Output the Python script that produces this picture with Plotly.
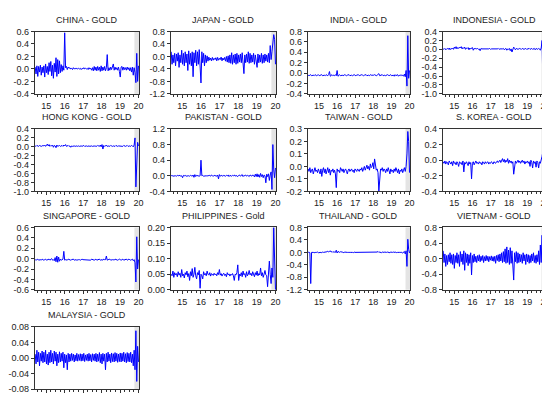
import numpy as np
import plotly.graph_objects as go

# ---------------- data (~1 point / 17 days) -------------
titles = ["CHINA - GOLD", "JAPAN - GOLD", "INDIA - GOLD", "INDONESIA - GOLD",
          "HONG KONG - GOLD", "PAKISTAN - GOLD", "TAIWAN - GOLD", "S. KOREA - GOLD",
          "SINGAPORE - GOLD", "PHILIPPINES - Gold", "THAILAND - GOLD", "VIETNAM - GOLD",
          "MALAYSIA - GOLD"]

year_ticks = [15, 16, 17, 18, 19, 20]
year_labels = ["15", "16", "17", "18", "19", "20"]

china = """0.03 -0.08 0.05 -0.12 0.04 -0.05 0.06 -0.10 0.03 -0.06
0.05 -0.13 0.08 -0.06 0.04 -0.09 0.10 -0.04 0.12 -0.11
0.06 -0.15 0.09 -0.05 0.18 -0.12 0.15 -0.08 0.13 -0.06
0.07 -0.04 0.05 -0.02 0.58 0.02 0.04 -0.01 0.03 0.01
0.02 0.00 0.01 -0.01 0.02 0.00 0.01 0.00 0.01 0.00
0.01 0.00 0.01 -0.01 0.01 0.00 0.02 0.00 0.01 0.00
0.01 -0.01 0.02 0.00 0.01 -0.02 0.02 -0.03 0.04 -0.02
0.03 -0.03 0.04 -0.02 0.03 -0.04 0.05 -0.03 0.03 -0.02
0.04 -0.03 0.02 0.23 -0.03 0.02 -0.02 0.03 -0.01 0.04
0.08 -0.02 0.03 -0.01 0.02 -0.02 0.03 -0.04 -0.13 0.03
0.04 -0.02 0.03 -0.01 0.02 -0.02 0.03 -0.01 0.02 -0.03
0.02 -0.05 0.03 -0.10 0.02 -0.06 -0.22 0.25 -0.20 0.05"""

japan = """0.15 -0.25 0.05 -0.20 0.10 -0.30 0.08 -0.15 0.12 -0.35
0.05 -0.20 0.20 -0.25 0.10 -0.30 0.15 -0.20 0.08 -0.45
0.18 -0.25 0.10 -0.30 0.15 -0.65 0.12 -0.20 0.20 -0.30
0.15 -0.25 0.22 -0.30 -0.85 0.15 -0.20 0.10 -0.30 0.05
-0.20 0.02 -0.15 -0.02 -0.12 -0.05 -0.14 -0.03 -0.12 -0.06
-0.10 -0.04 -0.14 -0.03 -0.12 -0.06 -0.10 -0.02 -0.14 -0.05
-0.11 -0.03 -0.15 0.00 -0.18 0.02 -0.20 0.05 -0.22 0.12
-0.25 0.05 -0.20 0.08 -0.25 0.10 -0.22 0.05 -0.18 0.08
-0.20 0.12 -0.25 -0.55 0.05 -0.20 0.08 -0.18 0.15 -0.22
0.10 -0.20 0.05 -0.18 0.10 -0.25 0.05 -0.20 -0.35 0.08
-0.20 0.05 -0.18 0.10 -0.22 0.05 -0.20 0.08 -0.15 0.05
-0.18 0.10 -0.20 0.35 -0.10 0.15 0.45 0.70 0.55 -0.25"""

india = """-0.04 -0.05 -0.04 -0.03 -0.05 -0.04 -0.04 -0.05 -0.03 -0.04
-0.05 -0.04 -0.03 -0.05 -0.04 -0.04 -0.03 -0.05 -0.04 -0.04
-0.05 -0.03 -0.04 -0.05 -0.03 0.03 -0.06 -0.04 -0.03 -0.05
-0.04 -0.05 -0.03 -0.05 0.05 -0.06 -0.04 -0.03 -0.05 -0.04
-0.04 -0.05 -0.04 -0.03 -0.04 -0.05 -0.04 -0.04 -0.03 -0.05
-0.04 -0.04 -0.05 -0.04 -0.03 -0.04 -0.05 -0.04 -0.04 -0.03
-0.05 -0.04 -0.04 -0.03 -0.04 -0.05 -0.04 -0.04 -0.03 -0.05
-0.04 -0.04 -0.05 -0.03 -0.04 -0.04 -0.05 -0.04 -0.03 -0.04
-0.05 -0.04 -0.03 -0.01 -0.05 -0.04 -0.04 -0.03 -0.05 -0.04
-0.04 -0.05 -0.04 -0.03 -0.04 -0.05 -0.04 -0.03 -0.05 -0.04
-0.04 -0.06 -0.03 -0.05 -0.04 -0.03 -0.06 -0.04 -0.05 -0.03
-0.05 -0.04 -0.06 -0.02 -0.07 0.05 -0.25 0.72 -0.10 0.05"""

indonesia = """0.01 0.00 0.02 -0.01 0.01 0.02 0.00 0.03 -0.01 0.02
0.01 0.03 0.00 0.05 0.02 0.06 0.01 0.04 0.02 0.05
0.03 0.06 0.01 0.04 0.02 0.05 0.00 0.03 0.02 0.04
-0.01 0.03 0.01 0.02 0.04 -0.02 0.02 0.01 0.02 0.01
0.02 0.00 0.01 -0.03 0.02 0.01 0.01 0.00 0.01 0.01
0.01 0.00 0.01 0.01 0.02 0.00 0.01 0.01 0.01 0.00
0.01 0.01 0.00 0.01 0.02 0.00 0.01 0.01 0.00 0.01
0.02 -0.01 0.01 0.02 -0.02 0.01 0.00 0.02 -0.03 0.01
-0.06 0.03 0.05 0.02 -0.01 0.02 0.01 0.00 0.01 0.02
0.01 0.00 0.02 0.01 0.00 0.01 0.02 0.00 0.01 0.01
0.02 0.00 0.01 0.02 0.00 0.01 0.02 -0.01 0.02 0.01
0.00 0.02 0.01 -0.02 0.03 0.20 -0.85 0.15 -0.30 0.05"""

hong_kong = """0.02 0.01 0.03 0.02 0.01 0.03 0.02 0.01 0.02 0.03
0.02 0.04 0.01 0.03 0.06 0.02 0.05 0.01 0.03 0.02
0.04 -0.01 0.03 0.02 -0.02 0.04 0.01 0.02 0.03 0.01
0.02 0.03 0.01 0.04 0.02 0.05 0.01 0.02 0.03 0.01
0.02 -0.01 0.02 0.01 0.02 0.02 0.01 0.02 0.02 0.01
0.02 0.01 0.02 0.02 0.01 0.02 0.03 0.01 0.02 0.02
0.01 0.02 0.02 0.01 0.02 0.02 0.01 0.02 0.02 0.01
0.02 0.01 0.03 0.02 0.01 0.04 0.00 0.05 -0.05 0.03
0.01 0.02 0.04 0.01 0.02 0.02 0.01 0.03 0.02 0.01
0.02 0.02 0.01 0.03 0.02 0.01 0.02 0.02 0.01 0.02
0.02 0.01 0.03 0.02 0.01 0.02 0.03 0.01 0.02 0.02
0.01 0.03 0.02 0.00 0.04 0.20 -0.90 -0.30 0.10 0.02"""

pakistan = """0.00 0.01 -0.01 0.00 0.01 0.00 -0.01 0.01 0.00 0.00
0.01 -0.01 0.00 -0.05 0.01 0.00 0.01 -0.01 0.00 0.01
0.00 -0.01 0.01 0.00 -0.01 0.02 -0.04 0.03 -0.02 0.01
0.00 0.01 -0.01 0.00 0.40 0.00 0.01 -0.01 0.00 0.01
0.00 -0.01 0.01 0.00 0.01 -0.01 0.02 0.00 -0.01 0.01
0.00 0.01 -0.01 0.02 -0.08 0.03 -0.01 0.01 0.00 -0.01
0.01 0.00 -0.01 0.01 0.00 0.02 -0.02 0.01 0.00 -0.01
0.01 0.00 0.02 -0.01 0.01 0.00 -0.02 0.01 0.02 -0.01
0.01 0.03 -0.02 0.01 0.00 0.02 -0.01 0.01 0.00 -0.02
0.02 0.00 -0.01 0.02 0.01 -0.03 0.04 -0.02 0.05 -0.03
0.03 -0.04 0.06 -0.02 0.03 -0.05 0.02 0.00 -0.18 0.04
-0.02 0.05 -0.12 0.02 0.10 -0.35 0.80 0.15 -0.05 0.20"""

taiwan = """-0.02 -0.04 -0.01 -0.05 -0.03 -0.02 -0.06 -0.03 -0.01 -0.04
-0.03 -0.05 -0.02 -0.04 -0.06 -0.02 -0.08 -0.03 -0.01 -0.05
-0.02 -0.06 -0.03 -0.01 -0.05 -0.02 -0.07 -0.03 -0.04 -0.02
-0.05 -0.03 -0.06 -0.17 -0.02 -0.04 -0.03 -0.05 -0.01 -0.03
-0.04 -0.02 -0.05 -0.03 -0.02 -0.04 -0.06 -0.03 -0.02 -0.04
-0.03 -0.02 -0.04 -0.03 -0.05 -0.02 -0.03 -0.04 -0.02 -0.03
-0.04 -0.02 -0.03 -0.01 -0.04 -0.02 0.00 -0.03 -0.01 0.01
-0.02 0.00 -0.03 0.02 -0.01 0.00 0.03 -0.02 0.06 -0.01
-0.03 -0.02 -0.05 -0.20 -0.04 -0.02 -0.03 -0.01 -0.04 -0.02
-0.03 -0.05 -0.02 -0.04 -0.01 -0.03 -0.06 -0.02 -0.04 -0.03
-0.05 -0.02 -0.04 -0.01 -0.03 -0.05 -0.02 -0.06 -0.03 -0.04
-0.02 -0.05 -0.03 -0.01 -0.04 0.00 0.10 0.28 0.20 -0.05"""

s_korea = """-0.02 -0.04 -0.01 -0.05 -0.02 -0.03 -0.06 -0.01 -0.03 -0.05
-0.02 -0.07 -0.01 -0.04 -0.03 -0.06 -0.02 -0.04 -0.08 -0.02
-0.04 -0.03 -0.06 -0.01 -0.15 -0.03 -0.05 -0.02 -0.04 -0.07
-0.02 -0.05 -0.03 -0.24 -0.04 -0.02 -0.06 -0.03 -0.01 -0.04
-0.03 -0.05 -0.02 -0.04 -0.03 -0.06 -0.02 -0.03 -0.05 -0.02
-0.04 -0.03 -0.02 -0.05 -0.03 -0.04 -0.02 -0.03 -0.05 -0.02
-0.03 -0.04 -0.02 -0.01 -0.03 -0.02 0.00 -0.03 -0.01 0.02
-0.02 0.01 -0.03 0.00 -0.02 0.02 -0.04 0.00 -0.03 -0.01
-0.04 -0.02 -0.18 -0.03 -0.01 -0.04 -0.02 0.00 -0.03 -0.01
-0.04 -0.02 0.00 -0.03 -0.01 -0.05 -0.02 -0.03 -0.01 -0.04
-0.02 -0.08 0.00 -0.03 -0.10 -0.01 -0.04 -0.02 -0.09 -0.01
-0.03 -0.10 -0.02 -0.04 0.00 0.05 0.12 0.32 0.10 -0.05"""

singapore = """-0.02 -0.03 -0.02 -0.01 -0.03 -0.02 -0.02 -0.03 -0.01 -0.02
-0.03 -0.02 -0.01 -0.03 -0.02 -0.02 -0.01 -0.03 -0.02 0.00
-0.03 -0.02 -0.04 0.02 -0.06 0.05 -0.07 0.03 -0.05 -0.01
-0.03 -0.02 -0.01 0.14 -0.03 -0.02 -0.02 -0.03 -0.01 -0.02
-0.02 -0.03 -0.02 -0.02 -0.01 -0.03 -0.02 -0.02 -0.03 -0.02
-0.02 -0.02 -0.03 -0.02 -0.01 -0.02 -0.02 -0.03 -0.02 -0.02
-0.02 -0.03 -0.02 -0.02 -0.03 -0.01 -0.02 -0.02 -0.03 -0.02
-0.01 -0.03 -0.02 -0.02 -0.01 -0.03 -0.02 -0.02 -0.03 -0.01
-0.02 -0.02 0.05 -0.03 -0.02 -0.02 -0.01 -0.03 -0.02 -0.02
-0.02 -0.03 -0.01 -0.02 -0.02 -0.03 -0.02 -0.01 -0.02 -0.03
-0.02 -0.01 -0.03 -0.02 -0.02 -0.01 -0.03 -0.02 -0.01 -0.02
-0.03 -0.02 -0.01 -0.04 -0.02 -0.08 -0.45 0.42 -0.20 -0.02"""

philippines = """0.050 0.045 0.060 0.040 0.055 0.048 0.052 0.042 0.058 0.047
0.053 0.040 0.065 0.045 0.050 0.038 0.055 0.048 0.060 0.042
0.052 0.030 0.058 0.045 0.068 0.040 0.050 0.072 0.045 0.035
0.055 0.048 0.062 0.005 0.050 0.045 0.035 0.058 0.048 0.052
0.045 0.060 0.050 0.047 0.055 0.044 0.052 0.050 0.046 0.053
0.048 0.051 0.045 0.055 0.049 0.065 0.047 0.052 0.044 0.050
0.053 0.046 0.050 0.042 0.055 0.048 0.051 0.044 0.050 0.047
0.052 0.045 0.030 0.050 0.048 0.055 0.080 0.030 0.050 0.045
0.055 0.042 0.060 0.048 0.052 0.040 0.058 0.045 0.050 0.062
0.048 0.053 0.045 0.058 0.050 0.042 0.055 0.047 0.060 0.045
0.052 0.048 0.070 0.045 0.055 0.040 0.050 0.062 0.048 0.045
0.010 0.055 0.092 0.050 0.020 0.070 0.040 0.200 0.060 0.000"""

thailand = """0.00 0.01 -0.01 -1.00 0.00 0.01 0.00 -0.01 0.01 0.00
0.00 0.01 -0.01 0.00 0.01 0.00 -0.01 0.01 0.00 0.00
0.01 0.00 0.02 0.04 0.01 0.03 0.05 0.01 0.03 0.00
0.02 0.01 0.00 0.07 -0.02 0.03 0.01 0.00 0.02 0.00
0.01 0.00 -0.01 0.01 0.00 0.01 0.00 0.00 0.01 0.00
0.00 0.01 0.00 -0.01 0.01 0.00 0.00 0.01 0.00 0.00
0.01 0.00 0.00 0.01 0.00 -0.01 0.01 0.00 0.00 0.01
0.00 0.00 0.01 0.00 0.01 0.00 0.00 -0.01 0.01 0.00
0.00 0.01 0.03 0.00 0.01 0.00 -0.01 0.01 0.00 0.00
0.01 0.00 0.00 0.01 0.00 0.00 -0.01 0.01 0.00 0.00
0.01 0.00 0.00 0.01 -0.01 0.00 0.01 0.00 0.00 0.01
0.00 -0.02 0.01 0.03 -0.05 0.05 -0.45 0.42 0.10 -0.02"""

vietnam = """0.20 -0.10 0.12 -0.20 0.08 -0.15 0.10 -0.08 0.15 -0.12
0.10 -0.15 0.12 -0.25 0.08 -0.10 0.15 -0.12 0.10 -0.20
0.18 -0.08 0.12 -0.15 0.20 -0.30 0.15 -0.10 0.12 -0.18
0.10 -0.12 0.15 -0.42 0.08 -0.10 0.12 -0.08 0.06 -0.10
0.08 -0.06 0.10 -0.08 0.06 -0.05 0.08 -0.10 0.05 -0.06
0.08 -0.05 0.06 -0.08 0.05 -0.04 0.07 -0.06 0.05 -0.07
0.06 -0.12 0.08 -0.05 0.10 -0.08 0.12 -0.06 0.15 -0.10
0.18 -0.08 0.25 -0.12 0.30 -0.10 0.22 -0.15 0.28 -0.12
0.20 -0.10 -0.55 0.15 -0.08 0.18 -0.12 0.15 -0.10 0.12
-0.08 0.10 -0.12 0.15 -0.06 0.10 -0.15 0.12 -0.08 0.10
-0.12 0.08 -0.10 0.12 -0.06 0.15 -0.10 0.08 -0.12 0.10
-0.08 0.20 -0.15 0.35 -0.10 0.60 -0.75 0.40 -0.50 0.10"""

malaysia = """0.010 -0.015 0.020 -0.010 0.015 -0.020 0.012 -0.008 0.018 -0.012
0.015 -0.010 0.020 -0.015 0.010 -0.018 0.015 -0.012 0.020 -0.010
0.012 -0.015 0.018 -0.008 0.015 -0.020 0.010 -0.012 0.016 -0.010
0.012 -0.008 0.015 -0.025 0.010 -0.012 0.008 -0.030 0.012 -0.010
0.010 -0.008 0.012 -0.006 0.010 -0.010 0.008 -0.007 0.012 -0.008
0.009 -0.006 0.011 -0.008 0.010 -0.007 0.012 -0.009 0.008 -0.006
0.010 -0.008 0.012 -0.007 0.009 -0.010 0.011 -0.006 0.010 -0.008
0.012 -0.010 0.010 -0.008 0.014 -0.012 0.010 -0.015 0.012 -0.008
0.010 -0.030 0.012 -0.010 0.015 -0.008 0.010 -0.012 0.013 -0.009
0.011 -0.010 0.014 -0.008 0.012 -0.011 0.010 -0.009 0.013 -0.010
0.012 -0.008 0.015 -0.010 0.011 -0.012 0.014 -0.009 0.012 -0.010
0.015 -0.012 0.010 -0.020 0.020 -0.030 0.070 -0.060 0.030 -0.010"""

series_text = [china, japan, india, indonesia, hong_kong, pakistan, taiwan, s_korea,
               singapore, philippines, thailand, vietnam, malaysia]

# y-axis ranges / tick steps / formats per panel
y_ranges = [(-0.4, 0.6), (-1.2, 0.8), (-0.4, 0.8), (-1.0, 0.4),
            (-1.0, 0.4), (-0.4, 1.2), (-0.2, 0.3), (-0.4, 0.4),
            (-0.6, 0.6), (0.0, 0.20), (-1.2, 0.8), (-0.8, 0.8),
            (-0.08, 0.08)]
y_steps = [0.2, 0.4, 0.2, 0.2, 0.2, 0.4, 0.1, 0.2, 0.2, 0.05, 0.4, 0.4, 0.04]
y_fmt = [".1f"] * 9 + [".2f", ".1f", ".1f", ".2f"]

# ---------------- layout geometry (pixels) ----------------
W, H = 550, 395
cols_px = [(27, 132), (164, 270), (302, 405), (438, 542)]
rows_px = [(19, 83), (119, 183), (220, 284), (322, 386)]
X_RANGE = [14.38, 20.03]
SHADE = (19.78, 20.03)
FONT = "Liberation Sans, Arial"

fig = go.Figure()
annotations = []
shapes = []
layout = {}

for k, (title, txt) in enumerate(zip(titles, series_text)):
    vals = [float(v) for v in txt.split()]
    n = len(vals)
    xs = np.linspace(14.40, 20.0, n)
    r, c = divmod(k, 4)
    x0, x1 = cols_px[c]
    y0, y1 = rows_px[r]
    ax = "" if k == 0 else str(k + 1)
    fig.add_trace(go.Scatter(x=xs, y=vals, mode="lines",
                             line=dict(color="#0000ff", width=1.0),
                             xaxis="x" + ax, yaxis="y" + ax,
                             showlegend=False, hoverinfo="skip"))
    lo, hi = y_ranges[k]
    step = y_steps[k]
    nt = int(round((hi - lo) / step))
    tv = [lo + i * step for i in range(nt + 1)]
    tt = [format(v + 0.0, y_fmt[k]) for v in tv]
    tt = [("0.0" if t == "-0.0" else "0.00" if t == "-0.00" else t) for t in tt]
    layout["xaxis" + ax] = dict(
        domain=[x0 / W, x1 / W], anchor="y" + ax, range=X_RANGE,
        tickvals=year_ticks, ticktext=year_labels, ticks="outside", ticklen=3,
        tickwidth=0.8, tickcolor="#333",
        showticklabels=(r < 3),
        minor=dict(tickvals=[y + q for y in range(14, 21) for q in (0.25, 0.5, 0.75)],
                   ticks="outside", ticklen=2, tickcolor="#333", tickwidth=0.8),
        showline=True, mirror=True, linecolor="#333", linewidth=0.8,
        showgrid=False, zeroline=False,
        tickfont=dict(size=9, color="#222", family=FONT))
    layout["yaxis" + ax] = dict(
        domain=[1 - y1 / H, 1 - y0 / H], anchor="x" + ax, range=[lo, hi],
        tickvals=tv, ticktext=tt, ticks="outside", ticklen=3, tickwidth=0.8,
        tickcolor="#333", showline=True, mirror=True, linecolor="#333",
        linewidth=0.8, showgrid=False, zeroline=False,
        tickfont=dict(size=9, color="#222", family=FONT))
    shapes.append(dict(type="rect", xref="x" + ax, yref="y" + ax + " domain",
                       x0=SHADE[0], x1=SHADE[1], y0=0, y1=1,
                       fillcolor="#e4e4e4", line=dict(width=0), layer="below"))
    annotations.append(dict(text=title, x=(x0 + x1) / 2 / W, y=1 - (y0 - 12) / H,
                            xref="paper", yref="paper", showarrow=False,
                            xanchor="center", yanchor="middle",
                            font=dict(size=9, color="#222", family=FONT)))

fig.update_layout(width=W, height=H, margin=dict(l=0, r=0, t=0, b=0),
                  paper_bgcolor="white", plot_bgcolor="white",
                  annotations=annotations, shapes=shapes, **layout)
fig.write_html("out.html")
